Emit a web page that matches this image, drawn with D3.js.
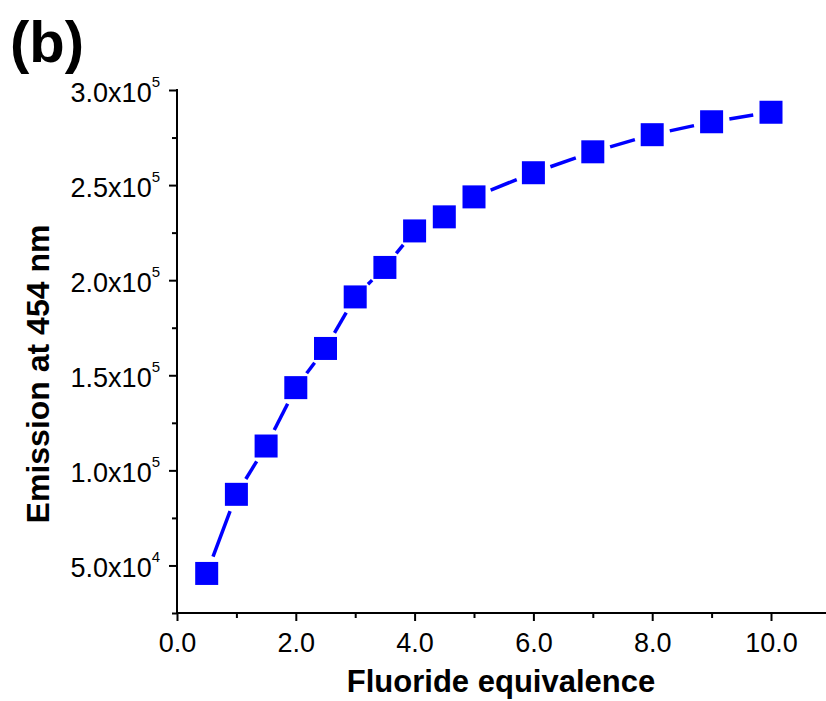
<!DOCTYPE html>
<html><head><meta charset="utf-8">
<script src="https://cdn.jsdelivr.net/npm/d3@7"></script>
<style>body{margin:0;background:#fff}svg{display:block;font-family:"Liberation Sans",Arial,sans-serif}</style>
</head><body>
<svg id="c" width="826" height="701"></svg>
<script>
const equivalents = [0.5,1.0,1.5,2.0,2.5,3.0,3.5,4.0,4.5,5.0,6.0,7.0,8.0,9.0,10.0];
const emission = [45800,87400,112800,143500,164100,191200,206700,225900,233300,243800,256500,267500,276500,283300,288300];
const xMajorTicks = [0,2,4,6,8,10];
const xMinorTicks = [1,3,5,7,9];
const yMajorTicks = [50000,100000,150000,200000,250000,300000];
const yMinorTicks = [25000,75000,125000,175000,225000,275000];
const yTickMantissa = ["5.0","1.0","1.5","2.0","2.5","3.0"];
const yTickExponent = ["4","5","5","5","5","5"];

const svg = d3.select("#c");
const x = d3.scaleLinear().domain([0,11]).range([177,830.4]);
const y = d3.scaleLinear().domain([25000,300000]).range([613,90]);

// x axis
const gx = svg.append("g").attr("transform","translate(0,613)");
gx.call(d3.axisBottom(x).tickValues(xMajorTicks).tickSize(8).tickFormat(d=>d3.format(".1f")(d)));
gx.append("g").call(d3.axisBottom(x).tickValues(xMinorTicks).tickSize(5).tickFormat(""));
gx.select("g").selectAll(".domain").remove();
gx.selectAll(".domain").attr("stroke-width",2).attr("d","M176,0H826");
gx.selectAll(".tick line").attr("stroke-width",2);
gx.selectAll(".tick text").attr("font-size",27).attr("font-family","Liberation Sans, Arial, sans-serif")
  .attr("y",39).attr("dy",0).attr("fill","#000");

// y axis
const gy = svg.append("g").attr("transform","translate(177,0)");
gy.call(d3.axisLeft(y).tickValues(yMajorTicks).tickSize(8).tickFormat(""));
gy.append("g").call(d3.axisLeft(y).tickValues(yMinorTicks).tickSize(5).tickFormat(""));
gy.select("g").selectAll(".domain").remove();
gy.selectAll(".domain").attr("stroke-width",2).attr("d","M0,89V614");
gy.selectAll(".tick line").attr("stroke-width",2);

// y tick labels with superscripts
yMajorTicks.forEach((v,i)=>{
  const t = svg.append("text").attr("x",160).attr("y",y(v)+12)
    .attr("text-anchor","end").attr("font-size",27).attr("fill","#000");
  t.append("tspan").text(yTickMantissa[i]+"x10");
  t.append("tspan").attr("font-size",15).attr("dy",-15).text(yTickExponent[i]);
});

// line segments with gaps at markers
const gap = 18;
const pts = equivalents.map((d,i)=>[x(d),y(emission[i])]);
for(let i=0;i<pts.length-1;i++){
  const [x1,y1]=pts[i],[x2,y2]=pts[i+1];
  const dx=x2-x1, dy=y2-y1, L=Math.hypot(dx,dy);
  if(L<=2*gap) continue;
  const ux=dx/L, uy=dy/L;
  svg.append("line").attr("x1",x1+ux*gap).attr("y1",y1+uy*gap)
    .attr("x2",x2-ux*gap).attr("y2",y2-uy*gap)
    .attr("stroke","#0000ff").attr("stroke-width",3.5);
}
// markers
svg.selectAll("rect.m").data(pts).join("rect").attr("class","m")
  .attr("x",d=>d[0]-11.5).attr("y",d=>d[1]-11.5).attr("width",23).attr("height",23)
  .attr("fill","#0000ff");

// axis titles
svg.append("text").attr("x",501).attr("y",692).attr("text-anchor","middle")
  .attr("font-size",31).attr("font-weight","bold").attr("fill","#000").text("Fluoride equivalence");
svg.append("text").attr("transform","translate(49,374) rotate(-90)").attr("text-anchor","middle")
  .attr("font-size",32).attr("font-weight","bold").attr("fill","#000").text("Emission at 454 nm");
// panel label
svg.append("text").attr("x",10).attr("y",62).attr("font-size",58).attr("font-weight","bold")
  .attr("fill","#000").text("(b)");
</script>
</body></html>
